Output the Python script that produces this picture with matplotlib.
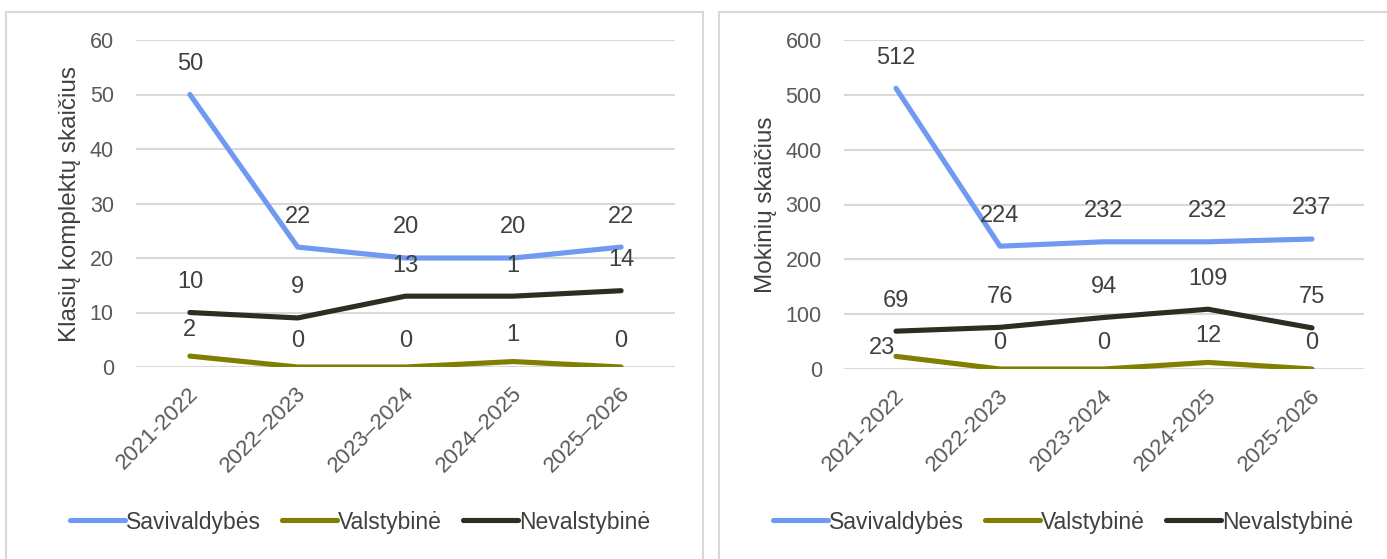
import matplotlib
matplotlib.use("Agg")
import matplotlib.pyplot as plt
from matplotlib.patches import Rectangle
from matplotlib.transforms import ScaledTranslation

plt.rcParams["font.family"] = ["Liberation Sans", "DejaVu Sans"]

# data
years_left = ["2021-2022", "2022–2023", "2023–2024", "2024–2025", "2025–2026"]
years_right = ["2021-2022", "2022-2023", "2023-2024", "2024-2025", "2025-2026"]
series_names = ["Savivaldybės", "Valstybinė", "Nevalstybinė"]

classes_sav = [50, 22, 20, 20, 22]
classes_val = [2, 0, 0, 1, 0]
classes_nev = [10, 9, 13, 13, 14]
classes_nev_labels = ["10", "9", "13", "1", "14"]  # as printed on the chart

pupils_sav = [512, 224, 232, 232, 237]
pupils_val = [23, 0, 0, 12, 0]
pupils_nev = [69, 76, 94, 109, 75]

COLORS = ["#7099f2", "#7f7f00", "#2f2c22"]
GRID = "#d9d9d9"
TXT = "#404040"
TICK = "#595959"
W, H = 1387, 559


def px_box(x0, y0, x1, y1):
    return [x0 / W, 1 - y1 / H, (x1 - x0) / W, (y1 - y0) / H]


fig = plt.figure(figsize=(W / 100, H / 100), dpi=100)
fig.patch.set_facecolor("white")

# panel frames
for x0, x1 in [(6, 703), (719, 1392)]:
    fig.patches.append(Rectangle((x0 / W, -0.01), (x1 - x0) / W, 1 - 12 / H + 0.01,
                                 transform=fig.transFigure, fill=False,
                                 edgecolor="#d9d9d9", linewidth=1.5))


def panel(box, cats, values, labels, ymax, step, ylabel, legend_x, label_offsets):
    ax = fig.add_axes(box)
    x = range(len(cats))
    for i, (vals, labs) in enumerate(zip(values, labels)):
        ax.plot(x, vals, color=COLORS[i], linewidth=3.7, solid_capstyle="round",
                label=series_names[i], zorder=3)
        for j, (v, t) in enumerate(zip(vals, labs)):
            dx, dy = label_offsets.get((i, j), (0, 19 if i == 1 else 22))
            ax.annotate(t, (j, v), xytext=(dx, dy), textcoords="offset points",
                        ha="center", va="center", fontsize=17, color=TXT, zorder=4)
    ax.set_xlim(-0.5, len(cats) - 0.5)
    ax.set_ylim(0, ymax)
    ax.set_yticks(range(0, ymax + 1, step))
    ax.grid(axis="y", color=GRID, linewidth=1.5, zorder=0)
    for s in ax.spines.values():
        s.set_visible(False)
    ax.tick_params(length=0, labelsize=15.5, colors=TICK, pad=16)
    ax.set_xticks(list(x))
    ax.set_xticklabels(cats, rotation=45, ha="right", va="center",
                       rotation_mode="anchor", fontsize=16, color=TICK)
    for lab in ax.get_xticklabels():
        lab.set_transform(lab.get_transform() +
                          ScaledTranslation(4 / 72, -1 / 72, fig.dpi_scale_trans))
    ax.set_ylabel(ylabel, fontsize=17.5, color=TXT, labelpad=6)
    ax.legend(loc="center", bbox_to_anchor=(legend_x / W, 1 - 522 / H),
              bbox_transform=fig.transFigure, ncol=3, frameon=False, fontsize=16.5,
              handlelength=2.4, handletextpad=0.05, columnspacing=0.9,
              labelcolor=TXT)
    return ax


panel(px_box(136, 40, 675, 367), years_left,
      [classes_sav, classes_val, classes_nev],
      [[str(v) for v in classes_sav], [str(v) for v in classes_val], classes_nev_labels],
      60, 10, "Klasių komplektų skaičius", 360, {})

panel(px_box(844, 40, 1364, 369), years_right,
      [pupils_sav, pupils_val, pupils_nev],
      [[str(v) for v in pupils_sav], [str(v) for v in pupils_val],
       [str(v) for v in pupils_nev]],
      600, 100, "Mokinių skaičius", 1063, {(1, 0): (-10, 6)})

fig.savefig("out.png", dpi=100, facecolor="white")
